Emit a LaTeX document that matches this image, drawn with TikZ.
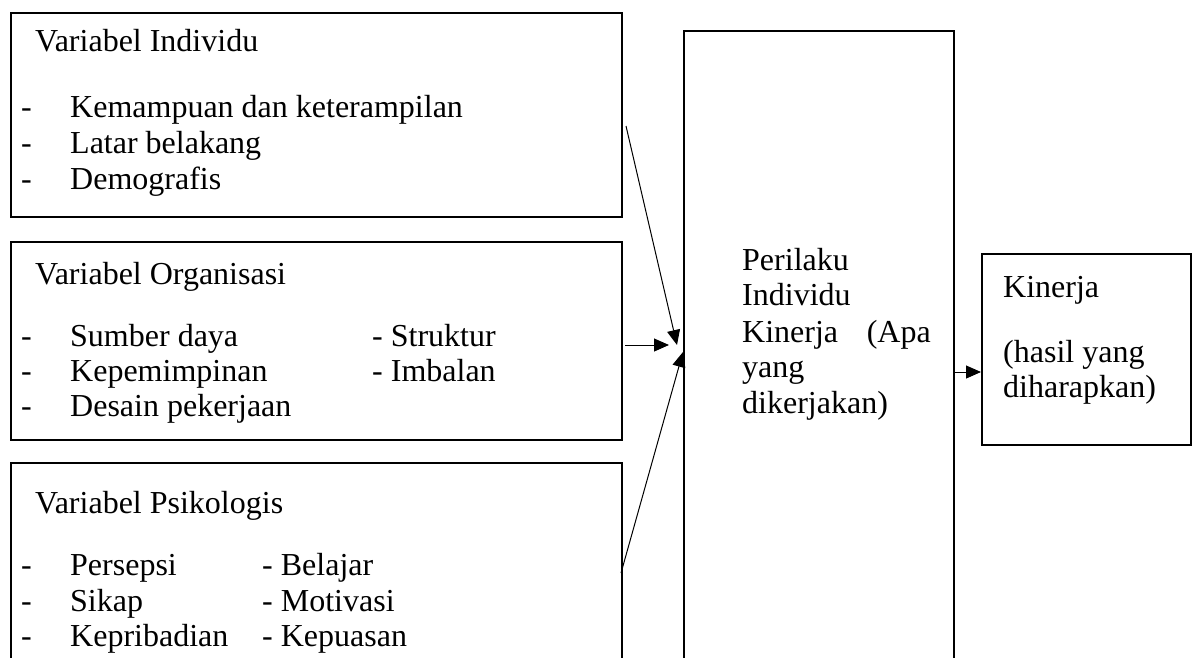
\documentclass[tikz,border=0pt]{standalone}
\usepackage{fontspec}
\setmainfont{Liberation Serif}
\usetikzlibrary{arrows.meta}
\begin{document}
\begin{tikzpicture}[x=1pt,y=-1pt,
  box/.style={draw,line width=1.6pt,anchor=north west,inner sep=0pt},
  txt/.style={inner sep=0pt,anchor=base west,font=\fontsize{32}{36}\selectfont},
  txe/.style={inner sep=0pt,anchor=base east,font=\fontsize{32}{36}\selectfont},
  arr/.style={line width=1pt,-{Triangle[length=15pt,width=13pt]}}]
\useasboundingbox (0,0) rectangle (1200,657);
% boxes
\node[box,minimum width=611pt,minimum height=204pt] (b1) at (10,12) {};
\node[box,minimum width=611pt,minimum height=198pt] (b2) at (10,241) {};
\node[box,minimum width=611pt,minimum height=240pt] (b3) at (10,462) {};
\node[box,minimum width=270pt,minimum height=700pt] (big) at (683,30) {};
\node[box,minimum width=209pt,minimum height=191pt] (kb) at (981,253) {};
% box 1 text
\node[txt] (t1) at (35,51) {Variabel Individu};
\node[txt] (d11) at (21,117) {-};
\node[txt] (d12) at (21,153) {-};
\node[txt] (d13) at (21,189) {-};
\node[txt] (i11) at (70,117) {Kemampuan dan keterampilan};
\node[txt] (i12) at (70,153) {Latar belakang};
\node[txt] (i13) at (70,189) {Demografis};
% box 2 text
\node[txt] (t2) at (35,284) {Variabel Organisasi};
\node[txt] (d21) at (21,346) {-};
\node[txt] (d22) at (21,381) {-};
\node[txt] (d23) at (21,416) {-};
\node[txt] (i21) at (70,346) {Sumber daya};
\node[txt] (i22) at (70,381) {Kepemimpinan};
\node[txt] (i23) at (70,416) {Desain pekerjaan};
\node[txt] (j21) at (372,346) {- Struktur};
\node[txt] (j22) at (372,381) {- Imbalan};
% box 3 text
\node[txt] (t3) at (35,513) {Variabel Psikologis};
\node[txt] (d31) at (21,575) {-};
\node[txt] (d32) at (21,611) {-};
\node[txt] (d33) at (21,646) {-};
\node[txt] (i31) at (70,575) {Persepsi};
\node[txt] (i32) at (70,611) {Sikap};
\node[txt] (i33) at (70,646) {Kepribadian};
\node[txt] (j31) at (262,575) {- Belajar};
\node[txt] (j32) at (262,611) {- Motivasi};
\node[txt] (j33) at (262,646) {- Kepuasan};
% big box text
\node[txt] (p1) at (742,270) {Perilaku};
\node[txt] (p2) at (742,305) {Individu};
\node[txt] (p3) at (742,342) {Kinerja};
\node[txe] (p3b) at (931,342) {(Apa};
\node[txt] (p4) at (742,377) {yang};
\node[txt] (p5) at (742,413) {dikerjakan)};
% kinerja box text
\node[txt] (k1) at (1003,297) {Kinerja};
\node[txt] (k2) at (1003,362) {(hasil yang};
\node[txt] (k3) at (1003,397) {diharapkan)};
% connectors
\coordinate (s1) at (626,126);
\coordinate (e1) at (677,345);
\coordinate (s2) at (625,345);
\coordinate (e2) at (669,345);
\coordinate (s3) at (621,573);
\coordinate (e3) at (683,352);
\coordinate (s4) at (953,372);
\coordinate (e4) at (981,372);
\draw[arr] (s1) -- (e1);
\draw[arr] (s2) -- (e2);
\draw[arr] (s3) -- (e3);
\draw[arr] (s4) -- (e4);
\end{tikzpicture}
\end{document}
